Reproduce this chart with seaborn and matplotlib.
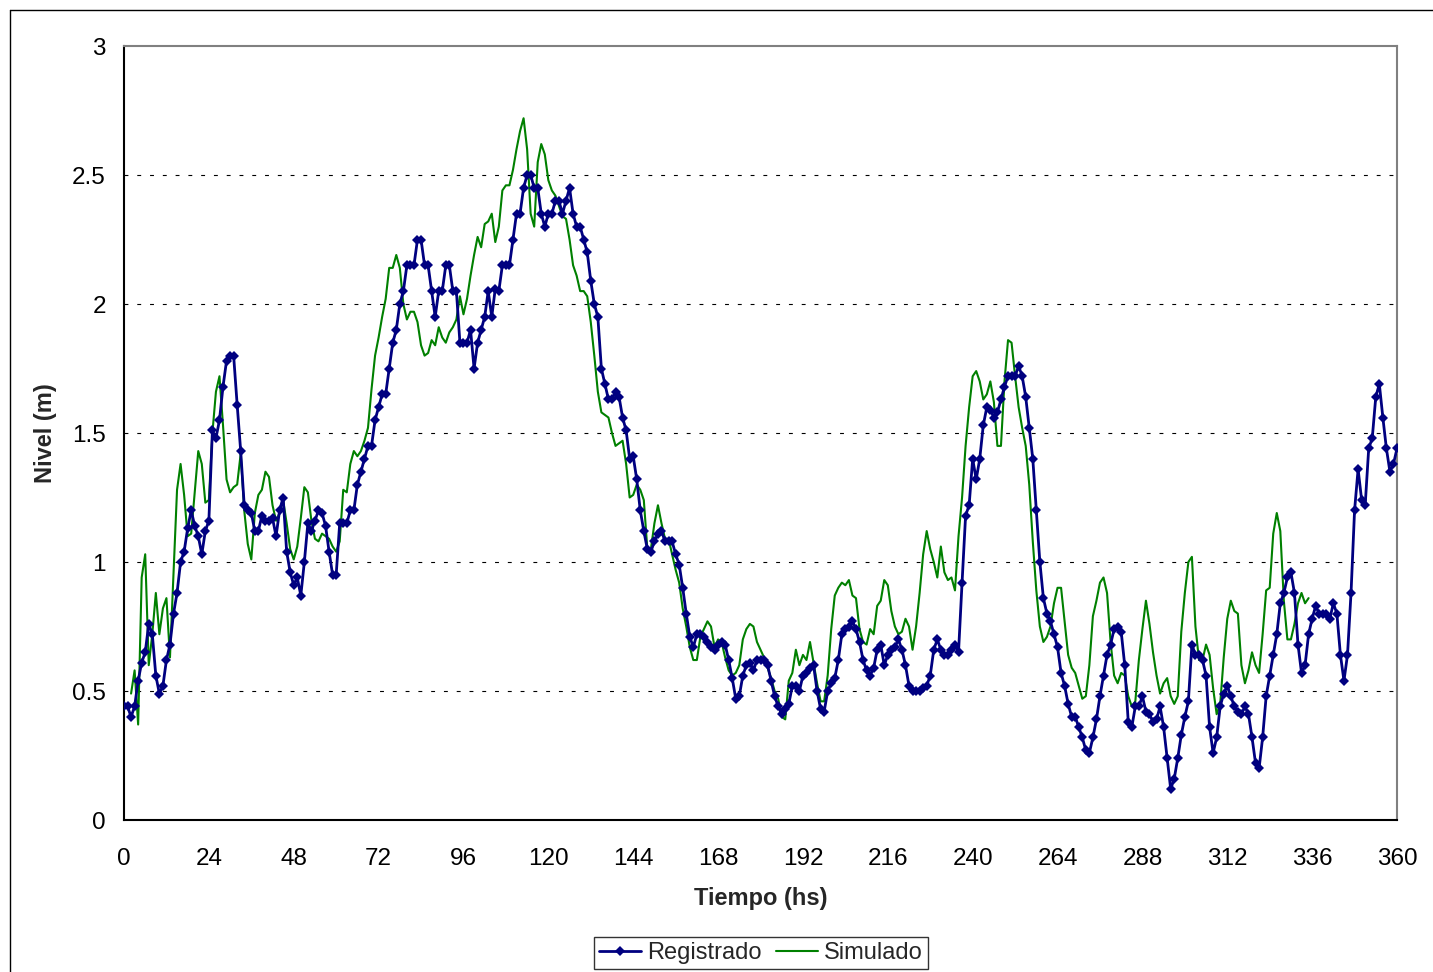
import numpy as np
import pandas as pd
import seaborn as sns
from matplotlib import pyplot as plt
from matplotlib.lines import Line2D

# hourly water level, Registrado from hour 0 to 360
registrado = [
    0.44, 0.44, 0.40, 0.44, 0.54, 0.61, 0.65, 0.76, 0.72, 0.56,  # 0
    0.49, 0.52, 0.62, 0.68, 0.80, 0.88, 1.00, 1.04, 1.13, 1.20,  # 10
    1.14, 1.10, 1.03, 1.12, 1.16, 1.51, 1.48, 1.55, 1.68, 1.78,  # 20
    1.80, 1.80, 1.61, 1.43, 1.22, 1.20, 1.19, 1.12, 1.12, 1.18,  # 30
    1.16, 1.16, 1.17, 1.10, 1.20, 1.25, 1.04, 0.96, 0.91, 0.94,  # 40
    0.87, 1.00, 1.15, 1.12, 1.16, 1.20, 1.19, 1.14, 1.04, 0.95,  # 50
    0.95, 1.15, 1.15, 1.15, 1.20, 1.20, 1.30, 1.35, 1.40, 1.45,  # 60
    1.45, 1.55, 1.60, 1.65, 1.65, 1.75, 1.85, 1.90, 2.00, 2.05,  # 70
    2.15, 2.15, 2.15, 2.25, 2.25, 2.15, 2.15, 2.05, 1.95, 2.05,  # 80
    2.05, 2.15, 2.15, 2.05, 2.05, 1.85, 1.85, 1.85, 1.90, 1.75,  # 90
    1.85, 1.90, 1.95, 2.05, 1.95, 2.06, 2.05, 2.15, 2.15, 2.15,  # 100
    2.25, 2.35, 2.35, 2.45, 2.50, 2.50, 2.45, 2.45, 2.35, 2.30,  # 110
    2.35, 2.35, 2.40, 2.40, 2.35, 2.40, 2.45, 2.35, 2.30, 2.30,  # 120
    2.25, 2.20, 2.09, 2.00, 1.95, 1.75, 1.69, 1.63, 1.63, 1.66,  # 130
    1.64, 1.56, 1.51, 1.40, 1.41, 1.32, 1.20, 1.12, 1.05, 1.04,  # 140
    1.08, 1.11, 1.12, 1.08, 1.08, 1.08, 1.03, 0.99, 0.90, 0.80,  # 150
    0.71, 0.67, 0.72, 0.72, 0.71, 0.69, 0.67, 0.66, 0.68, 0.69,  # 160
    0.68, 0.62, 0.55, 0.47, 0.48, 0.56, 0.60, 0.61, 0.58, 0.62,  # 170
    0.62, 0.62, 0.60, 0.54, 0.48, 0.44, 0.41, 0.43, 0.45, 0.52,  # 180
    0.52, 0.50, 0.56, 0.57, 0.59, 0.60, 0.50, 0.43, 0.42, 0.50,  # 190
    0.53, 0.55, 0.62, 0.72, 0.74, 0.75, 0.77, 0.74, 0.69, 0.62,  # 200
    0.58, 0.56, 0.59, 0.66, 0.68, 0.60, 0.64, 0.66, 0.67, 0.70,  # 210
    0.66, 0.60, 0.52, 0.50, 0.50, 0.50, 0.51, 0.52, 0.56, 0.66,  # 220
    0.70, 0.66, 0.64, 0.64, 0.66, 0.68, 0.65, 0.92, 1.18, 1.22,  # 230
    1.40, 1.32, 1.40, 1.53, 1.60, 1.59, 1.56, 1.58, 1.63, 1.68,  # 240
    1.72, 1.72, 1.72, 1.76, 1.72, 1.64, 1.52, 1.40, 1.20, 1.00,  # 250
    0.86, 0.80, 0.77, 0.72, 0.67, 0.57, 0.52, 0.45, 0.40, 0.40,  # 260
    0.36, 0.32, 0.27, 0.26, 0.32, 0.39, 0.48, 0.56, 0.64, 0.68,  # 270
    0.74, 0.75, 0.73, 0.60, 0.38, 0.36, 0.44, 0.44, 0.48, 0.42,  # 280
    0.41, 0.38, 0.39, 0.44, 0.36, 0.24, 0.12, 0.16, 0.24, 0.33,  # 290
    0.40, 0.46, 0.68, 0.64, 0.64, 0.62, 0.56, 0.36, 0.26, 0.32,  # 300
    0.44, 0.49, 0.52, 0.48, 0.44, 0.42, 0.41, 0.44, 0.41, 0.32,  # 310
    0.22, 0.20, 0.32, 0.48, 0.56, 0.64, 0.72, 0.84, 0.88, 0.94,  # 320
    0.96, 0.88, 0.68, 0.57, 0.60, 0.72, 0.78, 0.83, 0.80, 0.80,  # 330
    0.80, 0.78, 0.84, 0.80, 0.64, 0.54, 0.64, 0.88, 1.20, 1.36,  # 340
    1.24, 1.22, 1.44, 1.48, 1.64, 1.69, 1.56, 1.44, 1.35, 1.38,  # 350
    1.44,                                                        # 360
]

# Simulado, hourly from hour 2 to 335
simulado = [
    0.49, 0.58, 0.37, 0.94, 1.03, 0.60, 0.72, 0.88, 0.72, 0.82,  # 2
    0.86, 0.63, 0.95, 1.28, 1.38, 1.26, 1.10, 1.11, 1.27, 1.43,  # 12
    1.38, 1.23, 1.24, 1.50, 1.66, 1.72, 1.53, 1.32, 1.27, 1.29,  # 22
    1.30, 1.42, 1.20, 1.07, 1.01, 1.19, 1.26, 1.28, 1.35, 1.33,  # 32
    1.22, 1.16, 1.19, 1.24, 1.15, 1.05, 1.01, 1.06, 1.17, 1.29,  # 42
    1.27, 1.16, 1.09, 1.08, 1.11, 1.10, 1.09, 1.06, 1.04, 1.08,  # 52
    1.28, 1.27, 1.38, 1.43, 1.41, 1.43, 1.47, 1.52, 1.67, 1.80,  # 62
    1.87, 1.95, 2.02, 2.14, 2.14, 2.19, 2.14, 2.00, 1.94, 1.97,  # 72
    1.97, 1.93, 1.84, 1.80, 1.81, 1.86, 1.84, 1.91, 1.87, 1.85,  # 82
    1.89, 1.91, 1.94, 2.03, 1.96, 2.02, 2.11, 2.19, 2.26, 2.22,  # 92
    2.31, 2.32, 2.35, 2.24, 2.30, 2.44, 2.46, 2.46, 2.52, 2.60,  # 102
    2.67, 2.72, 2.60, 2.35, 2.30, 2.55, 2.62, 2.58, 2.48, 2.44,  # 112
    2.42, 2.38, 2.34, 2.33, 2.25, 2.15, 2.11, 2.05, 2.05, 2.03,  # 122
    1.93, 1.80, 1.66, 1.58, 1.57, 1.56, 1.50, 1.45, 1.46, 1.47,  # 132
    1.38, 1.25, 1.26, 1.30, 1.28, 1.24, 1.05, 1.05, 1.15, 1.22,  # 142
    1.15, 1.09, 1.09, 1.03, 0.97, 0.92, 0.82, 0.75, 0.67, 0.62,  # 152
    0.62, 0.71, 0.74, 0.77, 0.75, 0.67, 0.70, 0.69, 0.63, 0.58,  # 162
    0.56, 0.57, 0.60, 0.70, 0.74, 0.76, 0.75, 0.69, 0.66, 0.63,  # 172
    0.59, 0.55, 0.50, 0.47, 0.40, 0.39, 0.54, 0.57, 0.66, 0.60,  # 182
    0.64, 0.62, 0.69, 0.61, 0.53, 0.46, 0.46, 0.56, 0.74, 0.87,  # 192
    0.90, 0.92, 0.91, 0.93, 0.87, 0.86, 0.74, 0.69, 0.68, 0.74,  # 202
    0.72, 0.83, 0.85, 0.93, 0.91, 0.81, 0.75, 0.72, 0.73, 0.78,  # 212
    0.75, 0.66, 0.75, 0.88, 1.03, 1.12, 1.05, 1.00, 0.94, 1.06,  # 222
    0.96, 0.93, 0.94, 0.89, 1.10, 1.25, 1.45, 1.60, 1.72, 1.74,  # 232
    1.70, 1.63, 1.65, 1.70, 1.62, 1.45, 1.45, 1.70, 1.86, 1.85,  # 242
    1.72, 1.60, 1.52, 1.45, 1.30, 1.08, 0.89, 0.75, 0.69, 0.71,  # 252
    0.75, 0.84, 0.90, 0.90, 0.77, 0.64, 0.59, 0.57, 0.52, 0.47,  # 262
    0.48, 0.60, 0.79, 0.85, 0.92, 0.94, 0.88, 0.69, 0.56, 0.53,  # 272
    0.57, 0.56, 0.48, 0.44, 0.46, 0.62, 0.74, 0.85, 0.76, 0.65,  # 282
    0.56, 0.49, 0.53, 0.55, 0.48, 0.45, 0.48, 0.73, 0.88, 1.00,  # 292
    1.02, 0.75, 0.62, 0.62, 0.68, 0.64, 0.51, 0.41, 0.45, 0.63,  # 302
    0.78, 0.85, 0.81, 0.80, 0.60, 0.53, 0.58, 0.65, 0.60, 0.57,  # 312
    0.72, 0.89, 0.90, 1.11, 1.19, 1.12, 0.85, 0.70, 0.70, 0.76,  # 322
    0.84, 0.88, 0.84, 0.86,                                      # 332
]

xticks = list(range(0, 361, 24))
yticks = [0, 0.5, 1, 1.5, 2, 2.5, 3]
ytick_labels = ['0', '0.5', '1', '1.5', '2', '2.5', '3']

df_reg = pd.DataFrame({'hs': np.arange(len(registrado)), 'nivel': registrado})
df_sim = pd.DataFrame({'hs': np.arange(len(simulado)) + 2, 'nivel': simulado})

sns.set_style('white')
plt.rcParams['font.family'] = ['Liberation Sans', 'DejaVu Sans']

W, H = 1433, 972
fig = plt.figure(figsize=(W / 100, H / 100), dpi=100)
ax = fig.add_axes([124 / W, 1 - 820 / H, 1273 / W, 774 / H])

# outer chart border (top and left edges visible)
fig.add_artist(Line2D([10 / W, 1], [1 - 10 / H, 1 - 10 / H], color='black', lw=1))
fig.add_artist(Line2D([10 / W, 10 / W], [0, 1 - 10 / H], color='black', lw=1))

for y in yticks[1:-1]:
    ax.axhline(y, color='black', lw=0.8, ls=(0, (3.5, 8)), zorder=0)

sns.lineplot(data=df_sim, x='hs', y='nivel', ax=ax, color='#008000', lw=1.5,
             label='Simulado', zorder=2)
sns.lineplot(data=df_reg, x='hs', y='nivel', ax=ax, color='#000080', lw=2.0,
             marker='D', markersize=4.8, markeredgewidth=0, label='Registrado', zorder=3)

ax.set_xlim(0, 360)
ax.set_ylim(0, 3)
ax.set_xticks(xticks)
ax.set_yticks(yticks)
ax.set_yticklabels(ytick_labels)
ax.tick_params(axis='both', direction='out', length=5, width=1.2, color='black',
               labelsize=17.5, labelcolor='black')
ax.tick_params(axis='x', pad=15)
ax.tick_params(axis='y', pad=8)

for side in ['left', 'bottom']:
    ax.spines[side].set_color('black')
    ax.spines[side].set_linewidth(1.5)
for side in ['top', 'right']:
    ax.spines[side].set_visible(True)
    ax.spines[side].set_color('#808080')
    ax.spines[side].set_linewidth(1.5)

ax.set_xlabel('Tiempo (hs)', fontsize=17, fontweight='bold')
ax.set_ylabel('Nivel (m)', fontsize=17, fontweight='bold')
ax.xaxis.set_label_coords(0.5, (820 - 887) / 774)
ax.yaxis.set_label_coords((57 - 124) / 1273, 0.5)

handles, labels = ax.get_legend_handles_labels()
order = [labels.index('Registrado'), labels.index('Simulado')]
if ax.get_legend() is not None:
    ax.get_legend().remove()
leg = fig.legend([handles[i] for i in order], [labels[i] for i in order],
                 loc='center', bbox_to_anchor=(761 / W, 1 - 953 / H), ncol=2,
                 fontsize=17, frameon=True, fancybox=False, edgecolor='black',
                 handlelength=1.8, handletextpad=0.25, columnspacing=0.6,
                 borderpad=0.2, borderaxespad=0)
leg.get_frame().set_linewidth(1.0)

fig.savefig('out.png', dpi=100, facecolor='white')
